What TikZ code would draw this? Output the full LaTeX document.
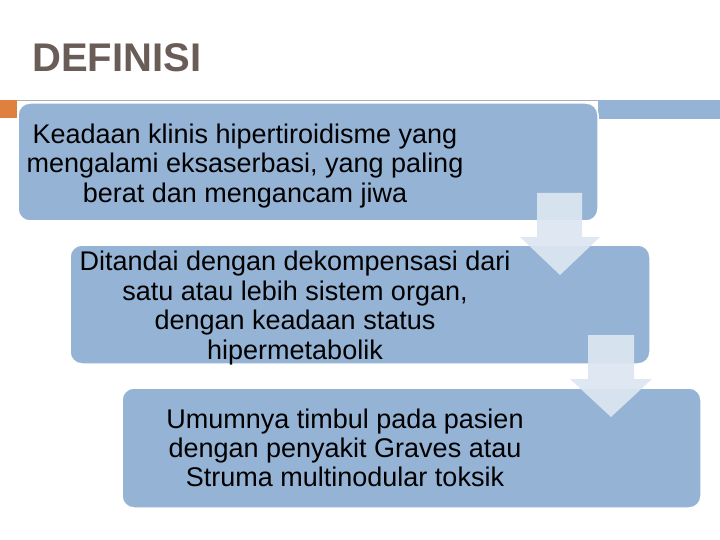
\documentclass[tikz,border=0pt]{standalone}
\usepackage{fontspec}
\setmainfont{Liberation Sans}
\definecolor{boxblue}{RGB}{149,179,213}
\definecolor{arrowfill}{RGB}{220,230,241}
\definecolor{titlecol}{RGB}{106,93,87}
\definecolor{accentor}{RGB}{224,128,63}
\definecolor{rulegrey}{RGB}{175,175,175}
\tikzset{
  stagebox/.style={fill=boxblue, draw=white, line width=1.5pt, rounded corners=12pt},
  stagetext/.style={align=center, font=\fontsize{27}{29.5}\selectfont, text=black, inner sep=0pt},
  downarrow/.style={fill=arrowfill, fill opacity=0.92, draw=none}
}
\begin{document}
\begin{tikzpicture}[x=1pt,y=-1pt]
\useasboundingbox (0,0) rectangle (720,540);
% header decorations
\draw[rulegrey, line width=1pt] (0,100.5) -- (720,100.5);
\fill[accentor] (0,100) rectangle (17,118);
\fill[boxblue] (598,100) rectangle (720,119);
\node[anchor=base west, inner sep=0pt, text=titlecol, font=\fontsize{40}{44}\bfseries\selectfont] (title) at (32,72) {DEFINISI};
% boxes
\draw[stagebox] (18,103) rectangle (598,221);
\draw[stagebox] (70,245) rectangle (650,364);
\draw[stagebox] (122,388) rectangle (701,508);
% texts
\node[stagetext] (t1) at (245,166) {Keadaan klinis hipertiroidisme yang\\mengalami eksaserbasi, yang paling\\berat dan mengancam jiwa};
\node[stagetext] (t2) at (295,308) {Ditandai dengan dekompensasi dari\\satu atau lebih sistem organ,\\dengan keadaan status\\hipermetabolik};
\node[stagetext, font=\fontsize{27}{29}\selectfont] (t3) at (345,448) {Umumnya timbul pada pasien\\dengan penyakit Graves atau\\Struma multinodular toksik};
% arrows
\fill[downarrow] (537,193) -- (582,193) -- (582,237) -- (600,237) -- (560,275) -- (520,237) -- (537,237) -- cycle;
\fill[downarrow] (588,335) -- (634,335) -- (634,379) -- (652,379) -- (611,417) -- (570,379) -- (588,379) -- cycle;
\end{tikzpicture}
\end{document}
